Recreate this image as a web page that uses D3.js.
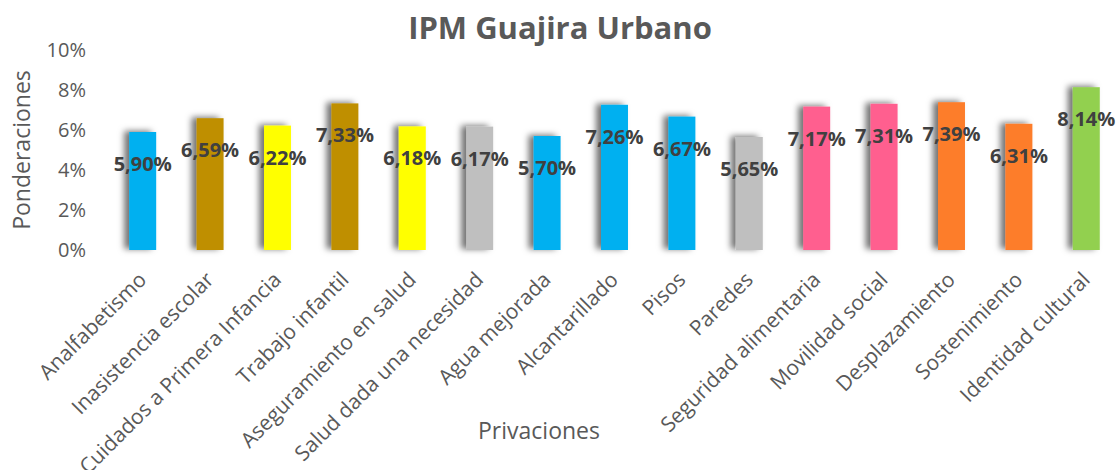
<script src="https://cdnjs.cloudflare.com/ajax/libs/d3/7.8.5/d3.min.js"></script>
<style>
    body { margin: 0; background: #fff; font-family: 'Open Sans', sans-serif; }
</style>
<svg width="1119" height="470"></svg>
<script>
    // data
    var categories = ["Analfabetismo", "Inasistencia escolar", "Cuidados a Primera Infancia",
        "Trabajo infantil", "Aseguramiento en salud", "Salud dada una necesidad",
        "Agua mejorada", "Alcantarillado", "Pisos", "Paredes", "Seguridad alimentaria",
        "Movilidad social", "Desplazamiento", "Sostenimiento", "Identidad cultural"];
    var values = [0.0590, 0.0659, 0.0622, 0.0733, 0.0618, 0.0617, 0.0570, 0.0726,
        0.0667, 0.0565, 0.0717, 0.0731, 0.0739, 0.0631, 0.0814];
    var groups = ["edu", "edu2", "ninez", "edu2", "ninez", "salud", "edu", "edu", "edu",
        "salud", "alim", "alim", "despl", "despl", "cult"];
    var yTicks = [0, 0.02, 0.04, 0.06, 0.08, 0.10];

    var color = d3.scaleOrdinal()
        .domain(["edu", "edu2", "ninez", "salud", "alim", "despl", "cult"])
        .range(["#00B0F0", "#BF8F00", "#FFFF00", "#BFBFBF", "#FF5F8F", "#FD7D2B", "#92D050"]);

    var svg = d3.select("svg");

    var x = d3.scaleBand()
        .domain(categories)
        .range([109, 1120])
        .paddingInner(0.6)
        .paddingOuter(0.3);

    var y = d3.scaleLinear()
        .domain([0, 0.10])
        .range([250, 50]);

    // shadow like the excel one
    var defs = svg.append("defs");
    var f = defs.append("filter").attr("id", "shadow")
        .attr("x", "-60%").attr("y", "-20%").attr("width", "220%").attr("height", "140%");
    f.append("feDropShadow")
        .attr("dx", -5).attr("dy", -1)
        .attr("stdDeviation", 3)
        .attr("flood-color", "#000")
        .attr("flood-opacity", 0.55);

    // title
    svg.append("text")
        .attr("x", 560)
        .attr("y", 39)
        .attr("text-anchor", "middle")
        .attr("font-size", 31)
        .attr("font-weight", "bold")
        .attr("fill", "#595959")
        .text("IPM Guajira Urbano");

    // y axis
    var yAxis = svg.append("g")
        .attr("transform", "translate(108,0)")
        .call(d3.axisLeft(y).tickValues(yTicks).tickSize(0).tickPadding(22)
            .tickFormat(function(d) { return Math.round(d * 100) + "%"; }));
    yAxis.select(".domain").remove();
    yAxis.selectAll("text")
        .attr("font-family", "'Open Sans', sans-serif")
        .attr("font-size", 20)
        .attr("fill", "#595959");

    svg.append("text")
        .attr("transform", "translate(30,150) rotate(-90)")
        .attr("text-anchor", "middle")
        .attr("font-size", 23)
        .attr("fill", "#595959")
        .text("Ponderaciones");

    // baseline
    svg.append("line")
        .attr("x1", 108).attr("x2", 1119)
        .attr("y1", y(0)).attr("y2", y(0))
        .attr("stroke", "#D9D9D9")
        .attr("stroke-width", 2)
        .attr("filter", "url(#shadow)");

    // bars
    svg.append("g")
        .selectAll("rect")
        .data(categories)
        .enter().append("rect")
        .attr("x", function(d) { return x(d); })
        .attr("y", function(d, i) { return y(values[i]); })
        .attr("width", x.bandwidth())
        .attr("height", function(d, i) { return y(0) - y(values[i]); })
        .attr("fill", function(d, i) { return color(groups[i]); })
        .attr("filter", "url(#shadow)");

    // value labels
    svg.append("g")
        .selectAll("text")
        .data(categories)
        .enter().append("text")
        .attr("x", function(d) { return x(d) + x.bandwidth() / 2; })
        .attr("y", function(d, i) { return y(values[i]) + 32; })
        .attr("dy", "0.35em")
        .attr("text-anchor", "middle")
        .attr("font-size", 20)
        .attr("font-weight", "bold")
        .attr("fill", "#404040")
        .text(function(d, i) { return (values[i] * 100).toFixed(2).replace(".", ",") + "%"; });

    // x axis labels
    var xAxis = svg.append("g")
        .attr("transform", "translate(0," + y(0) + ")")
        .call(d3.axisBottom(x).tickSize(0).tickPadding(0));
    xAxis.select(".domain").remove();
    xAxis.selectAll("text")
        .attr("font-family", "'Open Sans', sans-serif")
        .attr("font-size", 21)
        .attr("fill", "#595959")
        .attr("text-anchor", "end")
        .attr("y", 0)
        .attr("dy", 0)
        .attr("transform", "translate(5,31) rotate(-45)");

    svg.append("text")
        .attr("x", 539)
        .attr("y", 439)
        .attr("text-anchor", "middle")
        .attr("font-size", 23)
        .attr("fill", "#595959")
        .text("Privaciones");
</script>
